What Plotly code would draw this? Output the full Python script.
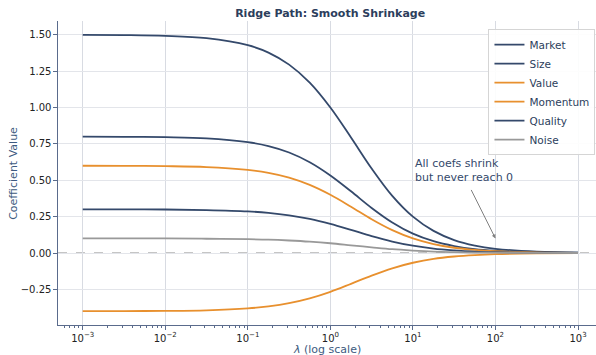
import plotly.graph_objects as go

# lambda grid (log10 exponents read at quarter/half decades)
lam_exp = [-3, -2.5, -2, -1.5, -1, -0.75, -0.5, -0.25, 0, 0.25, 0.5, 0.75, 1, 1.25, 1.5, 1.75, 2, 2.5, 3]
lambdas = [10 ** e for e in lam_exp]

series_names = ["Market", "Size", "Value", "Momentum", "Quality", "Noise"]
market = [1.499, 1.498, 1.493, 1.477, 1.429, 1.378, 1.295, 1.171, 1.000, 0.794, 0.581, 0.393, 0.250, 0.152, 0.089, 0.051, 0.029, 0.009, 0.003]
size = [0.800, 0.799, 0.796, 0.788, 0.762, 0.735, 0.691, 0.624, 0.533, 0.424, 0.310, 0.210, 0.133, 0.081, 0.048, 0.027, 0.016, 0.005, 0.002]
value = [0.600, 0.599, 0.597, 0.591, 0.571, 0.551, 0.518, 0.468, 0.400, 0.318, 0.232, 0.157, 0.100, 0.061, 0.036, 0.021, 0.012, 0.004, 0.001]
momentum = [-0.400, -0.399, -0.398, -0.394, -0.381, -0.367, -0.345, -0.312, -0.267, -0.212, -0.155, -0.105, -0.067, -0.040, -0.024, -0.014, -0.008, -0.003, -0.001]
quality = [0.300, 0.300, 0.299, 0.295, 0.286, 0.276, 0.259, 0.234, 0.200, 0.159, 0.116, 0.079, 0.050, 0.030, 0.018, 0.010, 0.006, 0.002, 0.001]
noise = [0.100, 0.100, 0.100, 0.098, 0.095, 0.092, 0.086, 0.078, 0.067, 0.053, 0.039, 0.026, 0.017, 0.010, 0.006, 0.003, 0.002, 0.001, 0.000]
series_values = [market, size, value, momentum, quality, noise]

x_tick_vals = [1e-3, 1e-2, 1e-1, 1e0, 1e1, 1e2, 1e3]
x_tick_text = ["10<sup>−3</sup>", "10<sup>−2</sup>", "10<sup>−1</sup>", "10<sup>0</sup>",
               "10<sup>1</sup>", "10<sup>2</sup>", "10<sup>3</sup>"]

NAVY = "#34496b"
ORANGE = "#e8902e"
GRAY = "#999999"
colors = [NAVY, NAVY, ORANGE, ORANGE, NAVY, GRAY]
FONT = "DejaVu Sans"

fig = go.Figure()
for name, vals, c in zip(series_names, series_values, colors):
    fig.add_trace(go.Scatter(x=lambdas, y=vals, name=name, mode="lines",
                             line=dict(color=c, width=1.8, shape="spline", smoothing=1.0)))

fig.add_shape(type="line", xref="paper", yref="y", x0=0, x1=1, y0=0, y1=0,
              line=dict(color="#8a8a8a", width=1, dash="dash"), layer="below")

fig.add_annotation(x=1, y=0.568, xref="x", yref="y", text="All coefs shrink<br>but never reach 0",
                   showarrow=False, xanchor="left", yanchor="middle", align="left",
                   font=dict(family=FONT, size=11, color=NAVY))
fig.add_annotation(x=2, y=0.1, xref="x", yref="y", text="", showarrow=True,
                   ax=-25, ay=-50, arrowhead=2, arrowsize=0.8, arrowwidth=1, arrowcolor="#808080")

fig.add_annotation(x=0.5, y=-0.079, xref="paper", yref="paper", text="<i>λ</i> (log scale)",
                   showarrow=False, xanchor="center", yanchor="middle",
                   font=dict(family=FONT, size=11, color="#3d5a80"))
fig.add_annotation(x=-0.084, y=0.5, xref="paper", yref="paper", text="Coefficient Value",
                   showarrow=False, textangle=-90, xanchor="center", yanchor="middle",
                   font=dict(family=FONT, size=11, color="#3d5a80"))

fig.update_layout(
    width=596, height=355,
    margin=dict(l=58, r=0, t=21, b=30),
    paper_bgcolor="white", plot_bgcolor="white",
    font=dict(family=FONT, size=10, color="#222222"),
    title=dict(text="<b>Ridge Path: Smooth Shrinkage</b>", x=0.554, xanchor="center",
               y=0.963, yanchor="middle", font=dict(family=FONT, size=11, color="#2c3e5c")),
    showlegend=True,
    legend=dict(x=0.999, y=0.973, xanchor="right", yanchor="top", bgcolor="rgba(255,255,255,0.9)",
                bordercolor="#d5d5d5", borderwidth=1, font=dict(family=FONT, size=10.5, color="#2c3e5c"),
                itemwidth=30),
)
fig.update_xaxes(type="log", range=[-3.2994, 3.218], tickvals=x_tick_vals, ticktext=x_tick_text,
                 showgrid=True, gridcolor="#d8dbe2", gridwidth=1, zeroline=False,
                 showline=True, linecolor="#5a6b8c", linewidth=1.2,
                 ticks="outside", ticklen=3.5, tickcolor="#5a6b8c",
                 minor=dict(dtick="D1", ticks="outside", ticklen=2, tickcolor="#5a6b8c", showgrid=False),
                 tickfont=dict(family=FONT, size=10, color="#222222"))
fig.update_yaxes(range=[-0.495, 1.595], dtick=0.25, tick0=0, tickformat=".2f",
                 showgrid=True, gridcolor="#e3e5ea", gridwidth=1.2, zeroline=False,
                 showline=True, linecolor="#5a6b8c", linewidth=1.2,
                 ticks="outside", ticklen=3.5, tickcolor="#5a6b8c",
                 tickfont=dict(family=FONT, size=10, color="#222222"))

fig.write_html("out.html", config={"displayModeBar": False},
               post_script="document.body.style.margin='0';document.body.style.overflow='hidden';")
